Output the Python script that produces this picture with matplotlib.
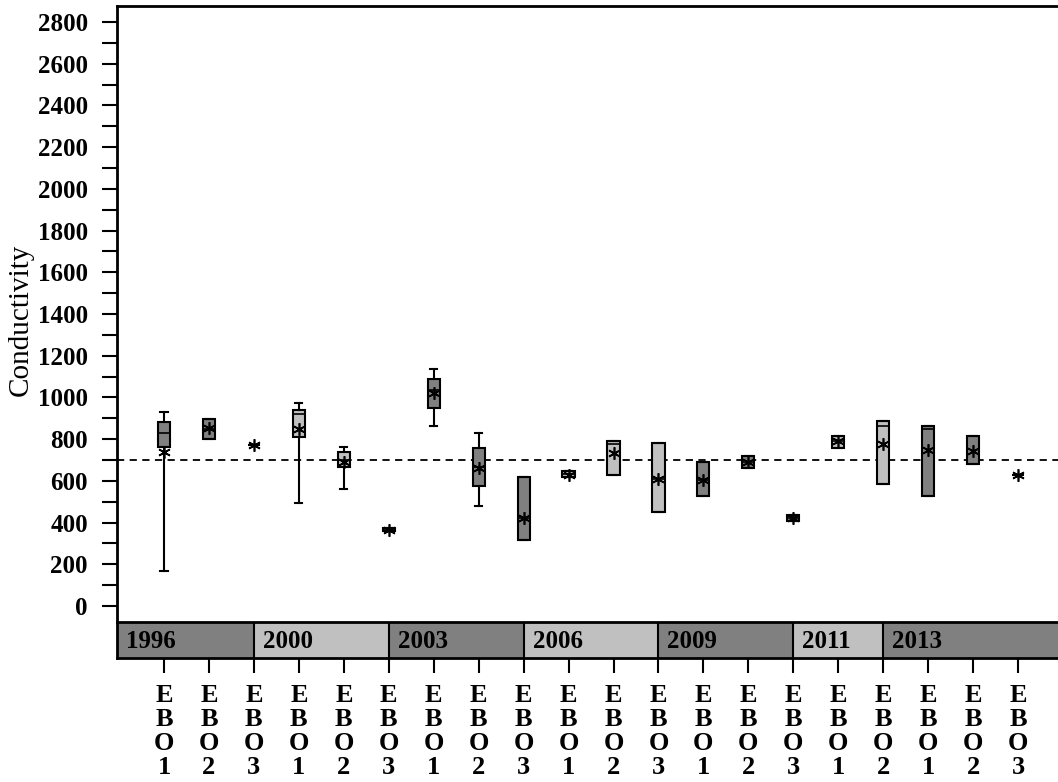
import matplotlib
matplotlib.use("Agg")
import matplotlib.pyplot as plt
from matplotlib.ticker import MultipleLocator

plt.rcParams['font.family'] = ['Liberation Serif', 'DejaVu Serif']

years = ['1996', '2000', '2003', '2006', '2009', '2011', '2013']
stations = ['EBO1', 'EBO2', 'EBO3', 'EBO1', 'EBO2', 'EBO3', 'EBO1', 'EBO2', 'EBO3',
            'EBO1', 'EBO2', 'EBO3', 'EBO1', 'EBO2', 'EBO3', 'EBO1', 'EBO2',
            'EBO1', 'EBO2', 'EBO3']
station_year = (['1996'] * 3 + ['2000'] * 3 + ['2003'] * 3 + ['2006'] * 3 +
                ['2009'] * 3 + ['2011'] * 2 + ['2013'] * 3)

low = [168, 802, 770, 494, 561, 357, 863, 478, 316, 617, 627, 451, 526, 662, 409, 759, 585, 526, 679, 628]
q1 = [764, 802, 770, 812, 668, 357, 948, 577, 316, 617, 627, 451, 526, 662, 409, 759, 585, 526, 679, 628]
median = [828, 850, 770, 919, 700, 364, 1037, 665, 420, 633, 775, 610, 604, 690, 422, 790, 863, 847, 679, 628]
q3 = [881, 896, 770, 940, 738, 373, 1090, 756, 620, 649, 790, 781, 689, 719, 436, 815, 888, 863, 815, 628]
high = [931, 896, 770, 972, 762, 373, 1135, 831, 620, 649, 790, 781, 689, 719, 436, 815, 888, 863, 815, 628]
mean = [740, 852, 770, 847, 690, 364, 1020, 660, 420, 630, 732, 610, 604, 690, 422, 790, 775, 748, 745, 628]

ref_value = 700

dark = '#808080'
light = '#c0c0c0'
year_color = {y: (dark if i % 2 == 0 else light) for i, y in enumerate(years)}

W, H = 1058, 782
fig = plt.figure(figsize=(W / 100, H / 100), dpi=100)
left_px, right_px = 117, 1068
ax = fig.add_axes([left_px / W, 1 - 622 / H, (right_px - left_px) / W, (622 - 6) / H])
axb = fig.add_axes([left_px / W, 1 - 658 / H, (right_px - left_px) / W, 36 / H], sharex=ax)

pos = list(range(len(stations)))
stats = []
for i in pos:
    stats.append(dict(whislo=low[i], q1=q1[i], med=median[i], q3=q3[i],
                      whishi=high[i], mean=mean[i], fliers=[]))

bp = ax.bxp(stats, positions=pos, widths=0.27, capwidths=0.16, patch_artist=True,
            showmeans=True, showfliers=False,
            boxprops=dict(edgecolor='black', linewidth=1.5),
            medianprops=dict(color='black', linewidth=1.2),
            whiskerprops=dict(color='black', linewidth=1.5),
            capprops=dict(color='black', linewidth=1.5),
            meanprops=dict(marker=(6, 2, 0), markeredgecolor='black',
                           markerfacecolor='black', markersize=9, markeredgewidth=1.2))
for patch, y in zip(bp['boxes'], station_year):
    patch.set_facecolor(year_color[y])

ax.axhline(ref_value, color='black', linestyle=(0, (4, 3)), linewidth=1.3, zorder=0)

x0 = -1.046
x1 = (right_px - 164) / 44.95
ax.set_xlim(x0, x1)
ax.set_ylim(-77, 2877)
ax.yaxis.set_major_locator(MultipleLocator(200))
ax.yaxis.set_minor_locator(MultipleLocator(100))
ax.tick_params(axis='y', which='both', direction='out', length=11, width=1.5, pad=10)
ax.tick_params(axis='y', labelsize=18)
for lab in ax.get_yticklabels():
    lab.set_fontweight('bold')
ax.tick_params(axis='x', which='both', bottom=False, labelbottom=False)
ax.set_ylabel('Conductivity', fontsize=21)
ax.yaxis.set_label_coords(-0.088, 0.49)
for s in ax.spines.values():
    s.set_linewidth(2)
ax.spines['bottom'].set_visible(False)

# year bands
start = x0
i = 0
for y in years:
    n = station_year.count(y)
    end = pos[i + n - 1] if y != years[-1] else x1
    axb.axvspan(start, end, color=year_color[y], zorder=0)
    axb.axvline(end, color='black', linewidth=1.5)
    axb.text(start + 0.2, 0.45, y, fontsize=18, fontweight='bold', va='center', ha='left')
    start = end
    i += n
axb.set_ylim(0, 1)
axb.set_yticks([])
for s in axb.spines.values():
    s.set_linewidth(2)
axb.set_xticks(pos)
axb.set_xticklabels(['\n'.join(s) for s in stations], fontsize=19, fontweight='bold',
                    linespacing=1.05)
axb.tick_params(axis='x', direction='out', length=11, width=1.5, pad=8)

fig.savefig('out.png', dpi=100)
